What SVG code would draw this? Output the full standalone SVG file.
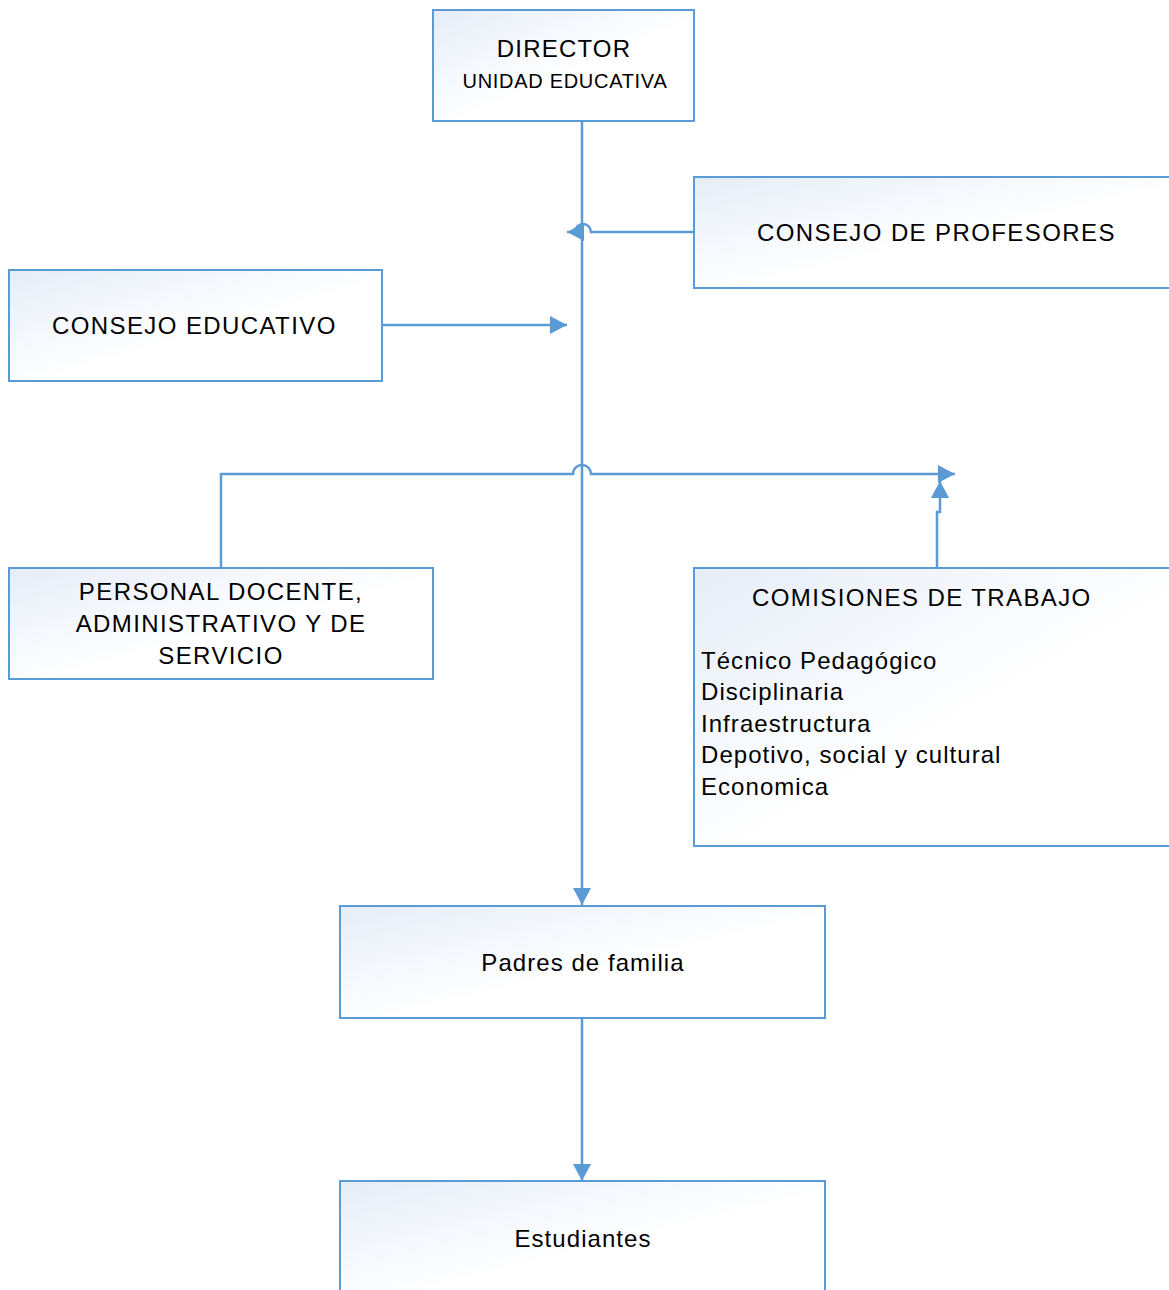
<svg xmlns="http://www.w3.org/2000/svg" width="1169" height="1290" viewBox="0 0 1169 1290">
<defs>
<linearGradient id="g" x1="0" y1="0" x2="1" y2="1">
<stop offset="0" stop-color="#e6edf8"/>
<stop offset="0.55" stop-color="#ffffff"/>
<stop offset="1" stop-color="#ffffff"/>
</linearGradient>
<marker id="ah" markerUnits="userSpaceOnUse" markerWidth="18" markerHeight="18" refX="17" refY="9" orient="auto">
<path d="M0,0 L17,9 L0,18 Z" fill="#5b9bd5"/>
</marker>
</defs>
<style>
.box{fill:url(#g);stroke:#5b9bd5;stroke-width:2}
.t{font-family:"Liberation Sans",Arial,sans-serif;font-size:24px;fill:#000;letter-spacing:1.4px}
.m{font-family:"Liberation Sans",Arial,sans-serif;font-size:24px;fill:#000;letter-spacing:1.05px}
.c{text-anchor:middle}
.ln{fill:none;stroke:#5b9bd5;stroke-width:2.5}
</style>
<rect width="1169" height="1290" fill="#ffffff"/>
<g id="connectors">
<path class="ln" d="M582,121 V905" marker-end="url(#ah)"/>
<path class="ln" d="M694,232 H591 A8,8 0 0 0 575,232 H567" marker-end="url(#ah)"/>
<path class="ln" d="M382,325 H567" marker-end="url(#ah)"/>
<path class="ln" d="M221,568 V474 H573 A9,9 0 0 1 591,474 H955" marker-end="url(#ah)"/>
<path class="ln" d="M937,568 V512 H940 V481" marker-end="url(#ah)"/>
<path class="ln" d="M582,1018 V1181" marker-end="url(#ah)"/>
</g>
<g id="director">
<rect class="box" x="433" y="10" width="261" height="111"/>
<text class="t c" x="564" y="57" style="letter-spacing:1.2px">DIRECTOR</text>
<text class="t c" x="565" y="88" style="font-size:20px;letter-spacing:0.7px">UNIDAD EDUCATIVA</text>
</g>
<g id="consejo-profesores">
<rect class="box" x="694" y="177" width="480" height="111"/>
<text class="t" x="757" y="241">CONSEJO DE PROFESORES</text>
</g>
<g id="consejo-educativo">
<rect class="box" x="9" y="270" width="373" height="111"/>
<text class="t" x="52" y="334">CONSEJO EDUCATIVO</text>
</g>
<g id="personal">
<rect class="box" x="9" y="568" width="424" height="111"/>
<text class="t c" x="221" y="600">PERSONAL DOCENTE,</text>
<text class="t c" x="221" y="632">ADMINISTRATIVO Y DE</text>
<text class="t c" x="221" y="664">SERVICIO</text>
</g>
<g id="comisiones">
<rect class="box" x="694" y="568" width="480" height="278"/>
<text class="t" x="752" y="606">COMISIONES DE TRABAJO</text>
<text class="m" x="701" y="669">Técnico Pedagógico</text>
<text class="m" x="701" y="700">Disciplinaria</text>
<text class="m" x="701" y="732">Infraestructura</text>
<text class="m" x="701" y="763">Depotivo, social y cultural</text>
<text class="m" x="701" y="795">Economica</text>
</g>
<g id="padres">
<rect class="box" x="340" y="906" width="485" height="112"/>
<text class="m c" x="583" y="971">Padres de familia</text>
</g>
<g id="estudiantes">
<rect class="box" x="340" y="1181" width="485" height="120"/>
<text class="m c" x="583" y="1247">Estudiantes</text>
</g>
</svg>
